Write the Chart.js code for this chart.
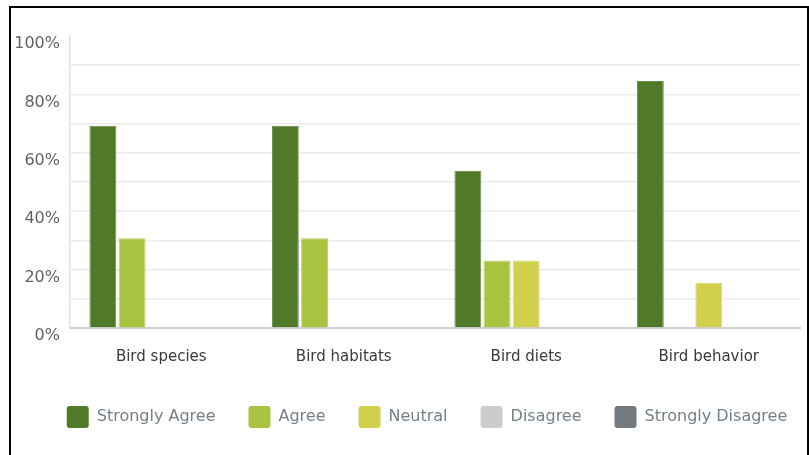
<!DOCTYPE html>
<html>
<head>
<meta charset="utf-8">
<script src="https://cdn.jsdelivr.net/npm/chart.js@4"></script>
<style>
  html, body { margin: 0; padding: 0; background: #fff; }
  #wrap { position: relative; width: 809px; height: 455px; }
  #frame { position: absolute; left: 9px; top: 6px; width: 800px; height: 460px;
           border: 2px solid #000; border-bottom: none; box-sizing: border-box; pointer-events: none; }
  canvas { position: absolute; left: 0; top: 0; }
</style>
</head>
<body>
<div id="wrap">
  <canvas id="survey" width="809" height="455"></canvas>
  <div id="frame"></div>
</div>
<script>
let categories = ['Bird species', 'Bird habitats', 'Bird diets', 'Bird behavior'];
let stronglyAgree = [69.23, 69.23, 53.85, 84.62];
let agree = [30.77, 30.77, 23.08, 0];
let neutral = [0, 0, 23.08, 15.38];
let disagree = [0, 0, 0, 0];
let stronglyDisagree = [0, 0, 0, 0];
let yTicks = [0, 20, 40, 60, 80, 100];

let ctx = document.getElementById('survey').getContext('2d');

function series(label, data, color, edge) {
	return {
		label: label,
		data: data,
		backgroundColor: color,
		borderColor: edge,
		borderWidth: 1,
		borderSkipped: 'bottom',
		categoryPercentage: 0.8,
		barPercentage: 0.92,
	};
}

// nudge the legend row to the right, as in the original
let legendShift = {
	id: 'legendShift',
	afterLayout(chart) {
		chart.legend.left += 21;
		chart.legend.right += 21;
	},
};

let survey = new Chart(ctx, {
	type: 'bar',
	data: {
		labels: categories,
		datasets: [
			series('Strongly Agree', stronglyAgree, '#507a28', '#6a8f47'),
			series('Agree', agree, '#a9c23f', '#bcd065'),
			series('Neutral', neutral, '#d1d04c', '#dcdb73'),
			series('Disagree', disagree, '#cccccc', '#cccccc'),
			series('Strongly Disagree', stronglyDisagree, '#727a80', '#727a80'),
		],
	},
	plugins: [legendShift],
	options: {
		responsive: false,
		animation: false,
		layout: { padding: { left: 12, right: 9, top: 36, bottom: 17 } },
		plugins: {
			tooltip: { enabled: false },
			legend: {
				position: 'bottom',
				labels: {
					boxWidth: 22,
					boxHeight: 22,
					padding: 33,
					color: '#75818a',
					font: { family: 'DejaVu Sans', size: 16 },
					useBorderRadius: true,
					borderRadius: 3,
					generateLabels(chart) {
						return chart.data.datasets.map((d, i) => ({
							text: d.label,
							fillStyle: d.backgroundColor,
							strokeStyle: d.backgroundColor,
							fontColor: '#75818a',
							lineWidth: 0,
							borderRadius: 3,
							datasetIndex: i,
						}));
					},
				},
			},
		},
		scales: {
			x: {
				grid: { display: false },
				border: { color: '#cfcfcf', width: 2 },
				ticks: { color: '#3a3a3a', padding: 12, font: { family: 'DejaVu Sans', size: 15 } },
				afterFit(scale) { scale.height = 45; },
			},
			y: {
				min: 0,
				max: 100,
				afterBuildTicks(scale) {
					let t = [];
					for (let v = 0; v <= 100; v += 10) t.push({ value: v });
					scale.ticks = t;
				},
				grid: {
					color: (c) => (c.tick && c.tick.value === 100 ? 'rgba(0,0,0,0)' : '#ebebeb'),
					lineWidth: 1.5,
					drawTicks: false,
				},
				border: { color: '#e0e0e0', width: 1.5 },
				ticks: {
					color: '#5f6366',
					padding: 10,
					labelOffset: 8,
					font: { family: 'DejaVu Sans', size: 16 },
					callback: (v) => (yTicks.includes(v) ? v + '%' : ''),
				},
				afterFit(scale) { scale.width = 58; },
			},
		},
	},
});
</script>
</body>
</html>
